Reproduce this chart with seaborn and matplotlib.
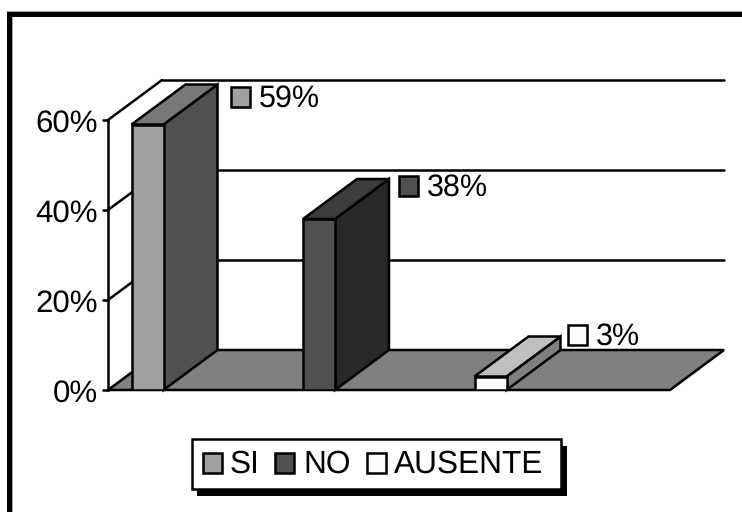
import matplotlib
matplotlib.use("Agg")
import matplotlib.pyplot as plt
from matplotlib.patches import Polygon, Rectangle
import pandas as pd
import seaborn as sns

# data
categories = ["SI", "NO", "AUSENTE"]
values = [59, 38, 3]
value_labels = ["59%", "38%", "3%"]
y_ticks = [0, 20, 40, 60]
y_tick_labels = ["0%", "20%", "40%", "60%"]

# colours: front, top, side
front_cols = ["#a0a0a0", "#505050", "#fcfcfc"]
top_cols = ["#787878", "#3c3c3c", "#bfbfbf"]
side_cols = ["#505050", "#282828", "#808080"]

W, H = 742, 512
X0, X1 = 108, 670      # floor front edge, pixels
Y0, Y60 = 390, 120     # 0% and 60%
DX, DY = 54, 40        # depth of the 3d box, pixels
BAR_STEP = 171.5
FIRST_BAR = 147.5
BAR_W = 32
LW = 1.8
# where each value key sits, relative to the bar's back top right corner (pixels)
key_gap_x = [13, 10, 7]
key_gap_y = [2, -3, -12]

sns.set_theme(style="white")
plt.rcParams["font.family"] = ["Liberation Sans", "DejaVu Sans"]
plt.rcParams["text.hinting"] = "none"

fig = plt.figure(figsize=(W / 100, H / 100), dpi=100)
ax = fig.add_axes([X0 / W, 1 - Y0 / H, (X1 - X0) / W, (Y0 - Y60) / H])

df = pd.DataFrame({"cat": categories, "val": values})
sns.barplot(data=df, x="cat", y="val", hue="cat", palette=front_cols, legend=False,
            width=BAR_W / BAR_STEP, edgecolor="black", linewidth=LW, ax=ax, zorder=5)
ax.set_xlim(-(FIRST_BAR - X0) / BAR_STEP, (X1 - FIRST_BAR) / BAR_STEP)
ax.set_ylim(0, 60)
ax.set_xlabel("")
ax.set_ylabel("")
ax.set_xticks([])
ax.set_yticks(y_ticks)
ax.set_yticklabels(y_tick_labels, fontsize=22.5, color="black")
ax.tick_params(axis="y", length=4.5, width=LW, color="black", left=True, pad=2.5)
ax.patch.set_alpha(0)
for side in ["top", "right", "bottom"]:
    ax.spines[side].set_visible(False)
ax.spines["left"].set_linewidth(LW)
ax.spines["left"].set_color("black")
ax.spines["left"].set_zorder(3)

x_lo, x_hi = ax.get_xlim()
px_x = (X1 - X0) / (x_hi - x_lo)
px_y = (Y0 - Y60) / 60
dx = DX / px_x
dy = DY / px_y

# floor
ax.add_patch(Polygon([(x_lo, 0), (x_hi, 0), (x_hi + dx, dy), (x_lo + dx, dy)], closed=True,
                     facecolor="#808080", edgecolor="black", linewidth=LW, clip_on=False, zorder=1))

# back wall lines and the slanted ones on the side wall
for t in y_ticks[1:]:
    ax.plot([x_lo + dx, x_hi + dx], [t + dy, t + dy], color="black", lw=LW, clip_on=False, zorder=1)
    ax.plot([x_lo, x_lo + dx], [t, t + dy], color="black", lw=LW, clip_on=False, zorder=1)

# top and side of the bars, from the bars seaborn drew
bars = list(ax.patches[:3])
for i, bar in enumerate(bars):
    l = bar.get_x()
    r = l + bar.get_width()
    h = bar.get_height()
    ax.add_patch(Polygon([(r, 0), (r + dx, dy), (r + dx, h + dy), (r, h)], closed=True,
                         facecolor=side_cols[i], edgecolor="black", linewidth=LW, clip_on=False, zorder=4))
    ax.add_patch(Polygon([(l, h), (r, h), (r + dx, h + dy), (l + dx, h + dy)], closed=True,
                         facecolor=top_cols[i], edgecolor="black", linewidth=LW, clip_on=False, zorder=4))
    # value label with its small key
    key_x = r + dx + key_gap_x[i] / px_x
    key_y = h + dy - key_gap_y[i] / px_y
    ax.add_patch(Rectangle((key_x, key_y - 20 / px_y), 19 / px_x, 20 / px_y, facecolor=bar.get_facecolor(),
                           edgecolor="black", linewidth=LW, clip_on=False, zorder=6))
    ax.text(key_x + 28 / px_x, key_y - 12 / px_y, value_labels[i], fontsize=22, color="black",
            va="center", ha="left", clip_on=False, zorder=6)

# outer frame, only top and left are in the picture
fig.add_artist(Rectangle((12 / W, 0), 1 / W, 1 - 16 / H, transform=fig.transFigure, facecolor="#a0a0a0", edgecolor="none"))
fig.add_artist(Rectangle((7 / W, 1 - 12 / H), 1 - 7 / W, 1 / H, transform=fig.transFigure, facecolor="#a0a0a0", edgecolor="none"))
fig.add_artist(Rectangle((7 / W, 0), 5 / W, 1 - 12 / H, transform=fig.transFigure, facecolor="black", edgecolor="none"))
fig.add_artist(Rectangle((7 / W, 1 - 17 / H), 1 - 7 / W, 5 / H, transform=fig.transFigure, facecolor="black", edgecolor="none"))

# legend box with shadow
fig.add_artist(Rectangle((197 / W, 1 - 496 / H), 370 / W, 50 / H, transform=fig.transFigure,
                         facecolor="black", edgecolor="none"))
fig.add_artist(Rectangle((192 / W, 1 - 489 / H), 369 / W, 50 / H, transform=fig.transFigure,
                         facecolor="white", edgecolor="black", linewidth=LW))
key_xs = [203, 275, 367]
text_xs = [230, 303, 394]
for name, col, kx, tx in zip(categories, front_cols, key_xs, text_xs):
    fig.add_artist(Rectangle((kx / W, 1 - 473 / H), 19 / W, 20 / H, transform=fig.transFigure,
                             facecolor=col, edgecolor="black", linewidth=LW))
    fig.text(tx / W, 1 - 464 / H, name, fontsize=22.8, color="black", va="center", ha="left")

fig.savefig("out.png", dpi=100)
